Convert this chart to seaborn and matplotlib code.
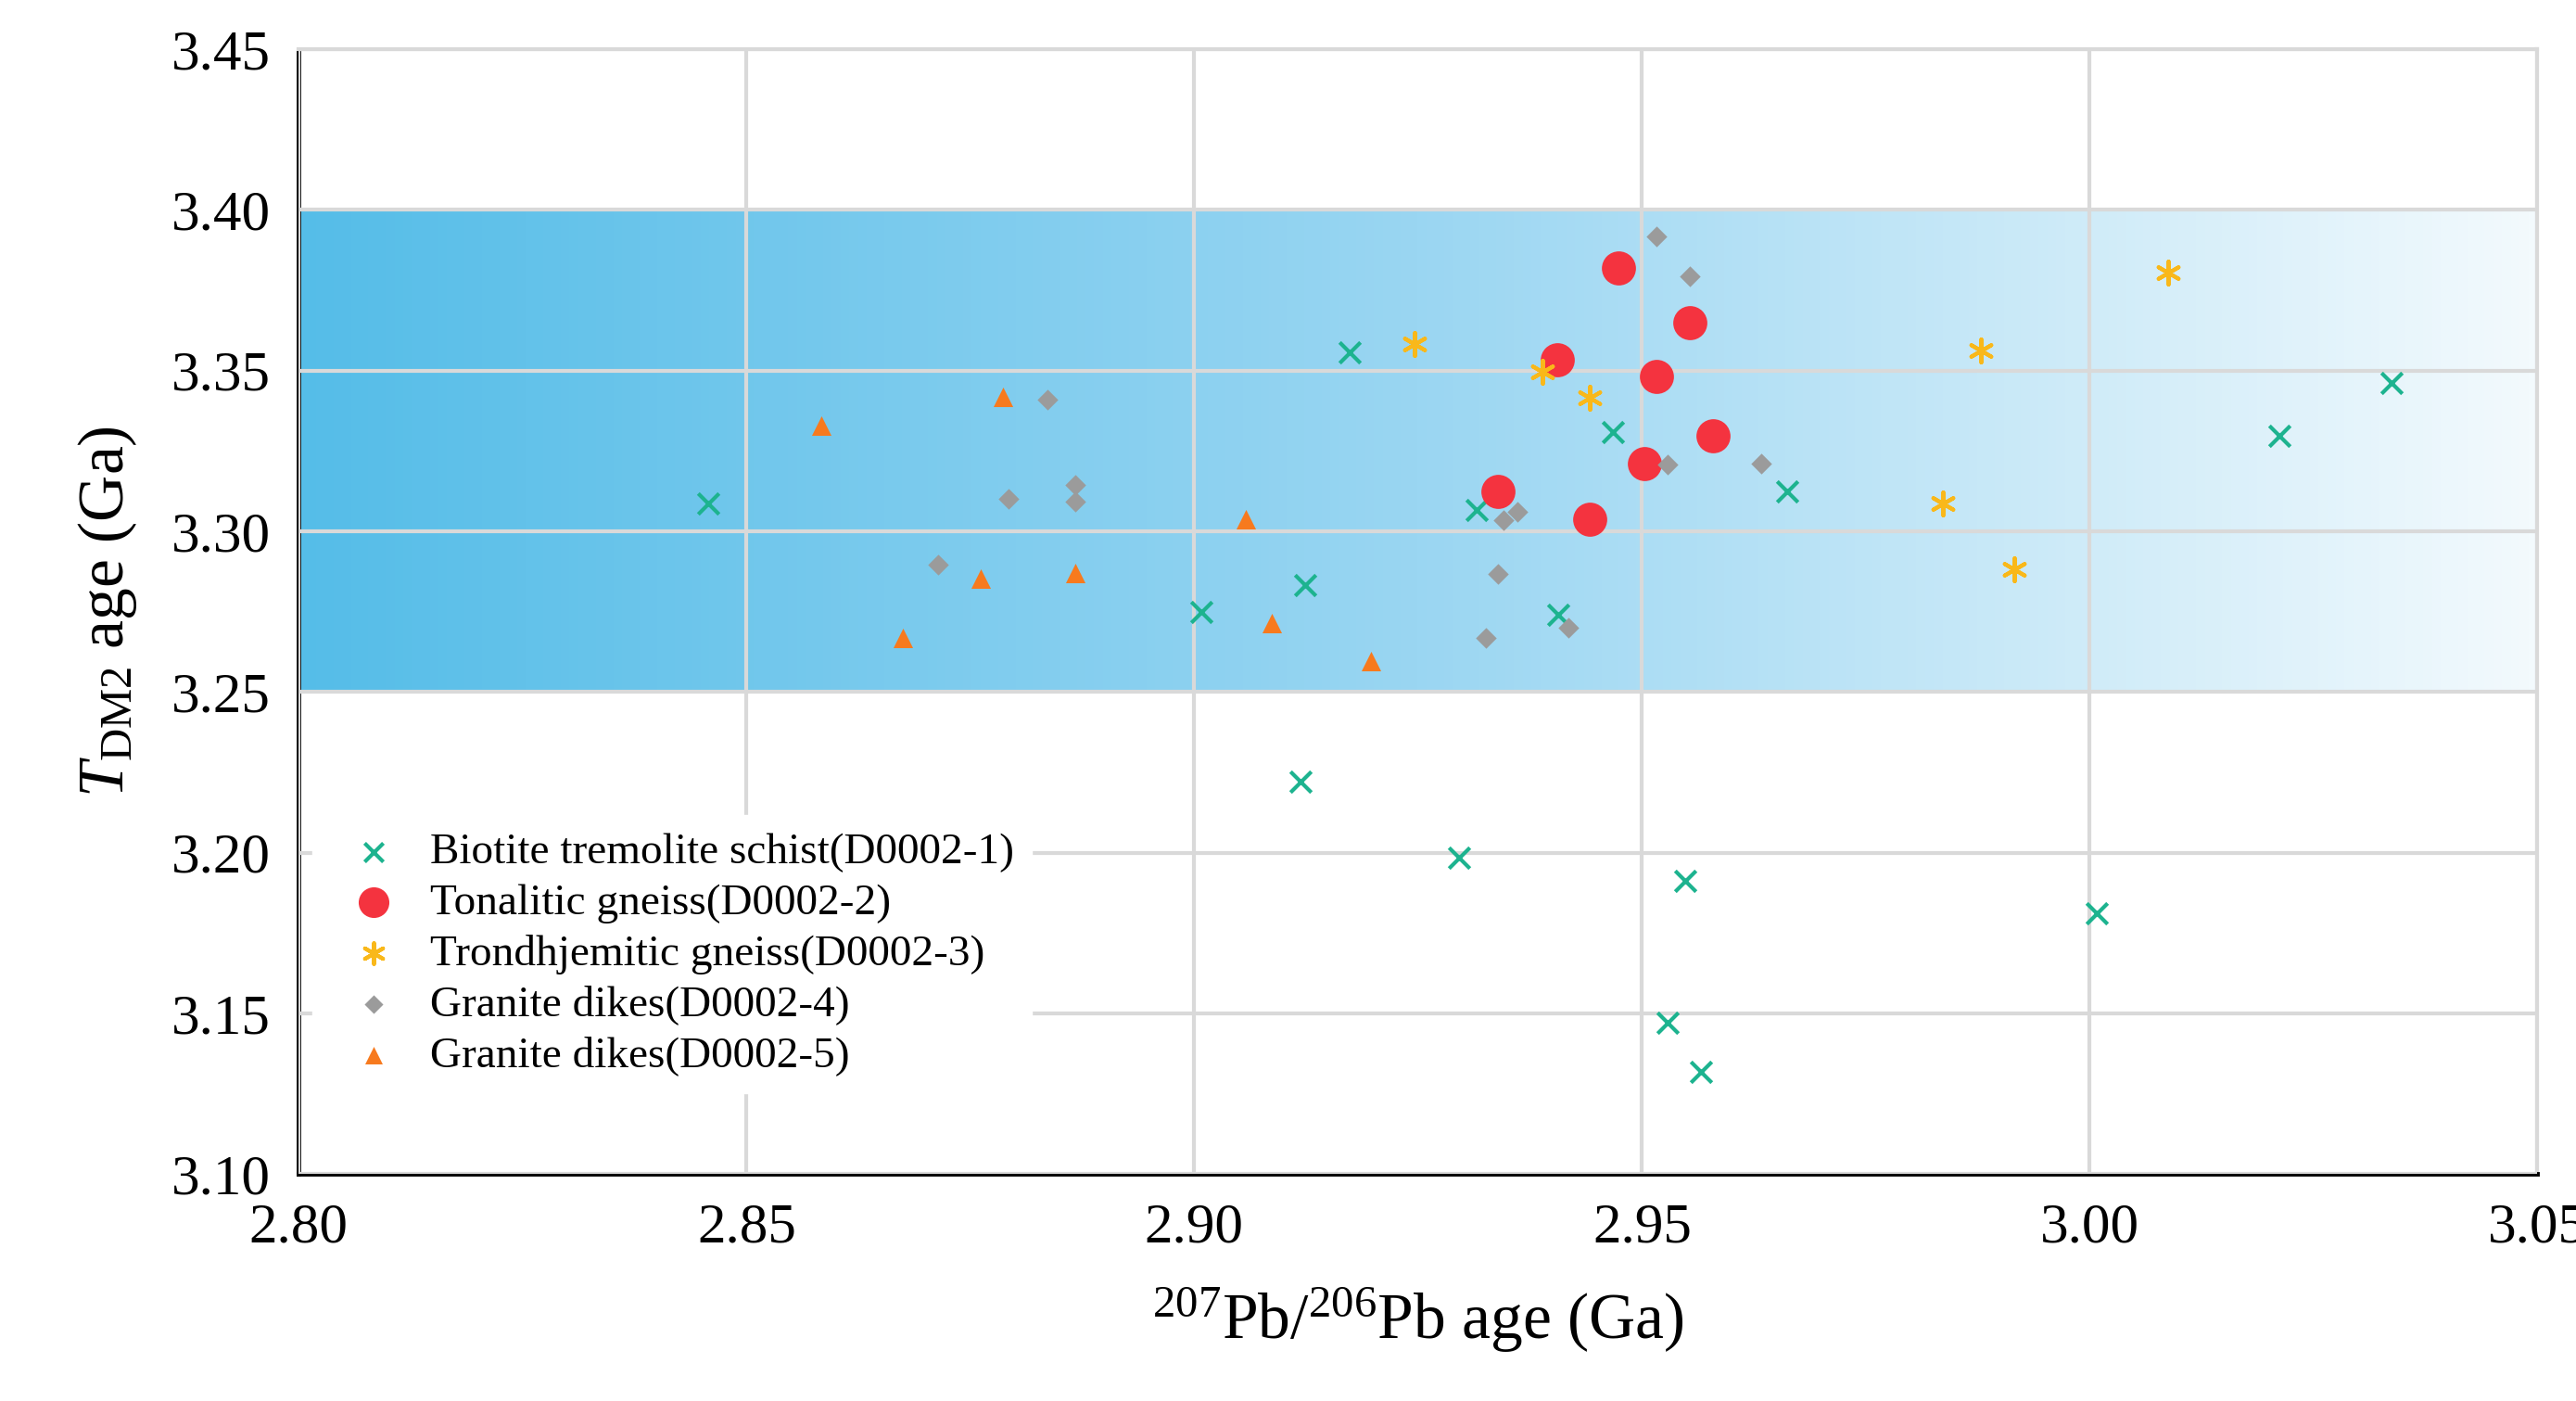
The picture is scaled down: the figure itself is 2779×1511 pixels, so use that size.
import numpy as np
import pandas as pd
import matplotlib
matplotlib.use("Agg")
import matplotlib.pyplot as plt
import seaborn as sns
from matplotlib.colors import LinearSegmentedColormap

plt.rcParams["font.family"] = "Liberation Serif"
plt.rcParams["mathtext.fontset"] = "custom"
plt.rcParams["mathtext.rm"] = "Liberation Serif"
plt.rcParams["mathtext.it"] = "Liberation Serif:italic"

bio_x = [2.8457, 2.9174, 2.9315, 2.9008, 2.9124, 2.9407, 2.9468, 2.9662, 3.0337, 3.0212, 2.9119, 2.9296, 2.9548, 3.0008, 2.9529, 2.9566]
bio_y = [3.3086, 3.3557, 3.3067, 3.2750, 3.2832, 3.2740, 3.3308, 3.3123, 3.3460, 3.3298, 3.2220, 3.1984, 3.1913, 3.1810, 3.1472, 3.1319]
ton_x = [2.9474, 2.9553, 2.9405, 2.9516, 2.9579, 2.9503, 2.9339, 2.9442]
ton_y = [3.3819, 3.3650, 3.3532, 3.3481, 3.3297, 3.3210, 3.3123, 3.3037]
tro_x = [2.9246, 2.9389, 2.9442, 3.0088, 2.9879, 2.9836, 2.9916]
tro_y = [3.3583, 3.3496, 3.3414, 3.3804, 3.3563, 3.3086, 3.2881]
gd4_x = [2.9516, 2.9553, 2.8836, 2.8867, 2.8867, 2.8793, 2.8714, 2.9361, 2.9345, 2.9339, 2.9529, 2.9633, 2.9418, 2.9326]
gd4_y = [3.3916, 3.3793, 3.3409, 3.3143, 3.3091, 3.3101, 3.2897, 3.3060, 3.3035, 3.2866, 3.3206, 3.3211, 3.2699, 3.2668]
gd5_x = [2.8584, 2.8786, 2.8675, 2.8762, 2.8867, 2.9058, 2.9087, 2.9197]
gd5_y = [3.3329, 3.3417, 3.2669, 3.2853, 3.2869, 3.3037, 3.2714, 3.2597]

labels = ["Biotite tremolite schist(D0002-1)", "Tonalitic gneiss(D0002-2)",
          "Trondhjemitic gneiss(D0002-3)", "Granite dikes(D0002-4)", "Granite dikes(D0002-5)"]
xs = [bio_x, ton_x, tro_x, gd4_x, gd5_x]
ys = [bio_y, ton_y, tro_y, gd4_y, gd5_y]
colors = ["#1db38f", "#f4333f", "#f9b81a", "#9b9b9b", "#f77a1e"]
markers = ["x", "o", (6, 2, 0), "D", "^"]
sizes = [260, 700, 320, 130, 230]

fig = plt.figure(figsize=(27.79, 15.11), dpi=100)
ax = fig.add_axes([0.116, 0.162, 0.869, 0.803])

cmap = LinearSegmentedColormap.from_list("band", ["#55bde8", "#9ad6f2", "#f3fafd"])
grad = np.linspace(0, 1, 512).reshape(1, -1)
ax.imshow(grad, extent=[2.80, 3.05, 3.25, 3.40], aspect="auto", cmap=cmap, zorder=0)

for x, y, c, m, s, l in zip(xs, ys, colors, markers, sizes, labels):
    df = pd.DataFrame({"x": x, "y": y})
    sns.scatterplot(data=df, x="x", y="y", ax=ax, color=c, marker=m, s=s,
                    linewidth=3 if m in ("x", (6, 2, 0)) else 0, label=l, zorder=3)

ax.set_xlim(2.80, 3.05)
ax.set_ylim(3.10, 3.45)
ax.set_xticks(np.arange(2.80, 3.051, 0.05))
ax.set_yticks(np.arange(3.10, 3.451, 0.05))
ax.xaxis.set_major_formatter(matplotlib.ticker.FormatStrFormatter("%.2f"))
ax.yaxis.set_major_formatter(matplotlib.ticker.FormatStrFormatter("%.2f"))
ax.grid(True, color="#d9d9d9", linewidth=3, zorder=1)
ax.set_axisbelow(False)
for sp in ["top", "right"]:
    ax.spines[sp].set_color("#d9d9d9")
    ax.spines[sp].set_linewidth(3)
for sp in ["left", "bottom"]:
    ax.spines[sp].set_color("black")
    ax.spines[sp].set_linewidth(3.5)
ax.tick_params(labelsize=44, length=0, pad=22)
ax.set_xlabel(r"$^{207}$Pb/$^{206}$Pb age (Ga)", fontsize=50, labelpad=25)
ax.set_ylabel(r"$T$$_{\rm DM2}$ age (Ga)", fontsize=50, labelpad=25)

leg = ax.legend(loc="lower left", bbox_to_anchor=(0.0, 0.06), frameon=True, fontsize=34,
                handletextpad=0.3, labelspacing=0.25, borderaxespad=0.3, markerscale=0.9)
leg.get_frame().set_facecolor("white")
leg.get_frame().set_edgecolor("white")
leg.get_frame().set_alpha(1)
fig.savefig("out.png", dpi=100)
